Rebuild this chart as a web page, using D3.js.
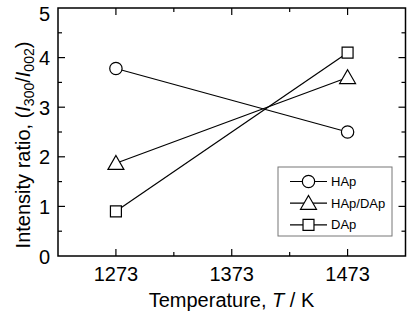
<!DOCTYPE html>
<html><head><meta charset="utf-8">
<script src="https://cdn.jsdelivr.net/npm/d3@7"></script>
<style>body{margin:0;background:#fff}svg{display:block}text{font-family:"Liberation Sans",Arial,sans-serif;fill:#000}</style>
</head><body><svg id="c" width="408" height="314"></svg>
<script>
const temps = [1273, 1473];
const seriesNames = ["HAp", "HAp/DAp", "DAp"];
const hap = [3.78, 2.5];
const hapDap = [1.87, 3.6];
const dap = [0.9, 4.1];
const xTicks = [1273, 1373, 1473];
const yTicks = [0, 1, 2, 3, 4, 5];

const svg = d3.select("#c");
const L = 58, R = 405.5, T = 8, B = 256;
const x = d3.scaleLinear().domain([1223, 1523]).range([L, R]);
const y = d3.scaleLinear().domain([0, 5]).range([B, T]);
const g = svg.append("g");

g.append("rect").attr("x", L).attr("y", T).attr("width", R - L).attr("height", B - T)
  .attr("fill", "none").attr("stroke", "#000").attr("stroke-width", 1.5);

const xMinor = [1323, 1423];
const yMinor = [0.5, 1.5, 2.5, 3.5, 4.5];
function ticks(arr, scale, len, horiz) {
  arr.forEach(v => {
    const p = scale(v);
    if (horiz) {
      g.append("line").attr("x1", p).attr("x2", p).attr("y1", B).attr("y2", B - len).attr("stroke", "#000").attr("stroke-width", 1.2);
      g.append("line").attr("x1", p).attr("x2", p).attr("y1", T).attr("y2", T + len).attr("stroke", "#000").attr("stroke-width", 1.2);
    } else {
      g.append("line").attr("y1", p).attr("y2", p).attr("x1", L).attr("x2", L + len).attr("stroke", "#000").attr("stroke-width", 1.2);
      g.append("line").attr("y1", p).attr("y2", p).attr("x1", R).attr("x2", R - len).attr("stroke", "#000").attr("stroke-width", 1.2);
    }
  });
}
ticks(xTicks, x, 7, true);
ticks(xMinor, x, 4, true);
ticks(yTicks.slice(1, 5), y, 7, false);
ticks(yMinor, y, 4, false);

xTicks.forEach(v => g.append("text").attr("x", x(v)).attr("y", 280.5).attr("text-anchor", "middle")
  .attr("font-size", 20).text(v));
yTicks.forEach(v => g.append("text").attr("x", 50).attr("y", Math.max(y(v), 13) + 7.5).attr("text-anchor", "end")
  .attr("font-size", 20).text(v));

const xt = g.append("text").attr("x", 231.5).attr("y", 307).attr("text-anchor", "middle").attr("font-size", 20);
xt.append("tspan").text("Temperature,  ");
xt.append("tspan").attr("font-style", "italic").text("T");
xt.append("tspan").text(" / K");

const yt = g.append("text").attr("transform", "translate(30,145) rotate(-90)").attr("text-anchor", "middle").attr("font-size", 20);
yt.append("tspan").text("Intensity ratio, (");
yt.append("tspan").attr("font-style", "italic").text("I");
yt.append("tspan").attr("font-size", 14).attr("dy", 4).text("300");
yt.append("tspan").attr("dy", -4).text("/");
yt.append("tspan").attr("font-style", "italic").text("I");
yt.append("tspan").attr("font-size", 14).attr("dy", 4).text("002");
yt.append("tspan").attr("dy", -4).text(")");

const data = [hap, hapDap, dap];
const shapes = [d3.symbolCircle, d3.symbolTriangle, d3.symbolSquare];
const sizes = [120, 110, 120];
const offs = [0, 1.5, 0];
const line = d3.line().x((d, i) => x(temps[i])).y(d => y(d));
data.forEach(vals => {
  g.append("path").attr("d", line(vals)).attr("fill", "none").attr("stroke", "#000").attr("stroke-width", 1.2);
});
data.forEach((vals, k) => {
  vals.forEach((v, i) => {
    g.append("path").attr("d", d3.symbol().type(shapes[k]).size(sizes[k])())
      .attr("transform", `translate(${x(temps[i])},${y(v) + offs[k]})`)
      .attr("fill", "#fff").attr("stroke", "#000").attr("stroke-width", 1.2);
  });
});

g.append("rect").attr("x", 278).attr("y", 167).attr("width", 114).attr("height", 69)
  .attr("fill", "#fff").attr("stroke", "#777").attr("stroke-width", 1);
seriesNames.forEach((n, k) => {
  const yy = 181.5 + k * 21.7;
  g.append("line").attr("x1", 290).attr("x2", 327).attr("y1", yy).attr("y2", yy).attr("stroke", "#000").attr("stroke-width", 1.2);
  g.append("path").attr("d", d3.symbol().type(shapes[k]).size(sizes[k])())
    .attr("transform", `translate(308.5,${yy + offs[k]})`)
    .attr("fill", "#fff").attr("stroke", "#000").attr("stroke-width", 1.2);
  g.append("text").attr("x", 331).attr("y", yy + 4.5).attr("font-size", 13).text(n);
});
</script></body></html>
